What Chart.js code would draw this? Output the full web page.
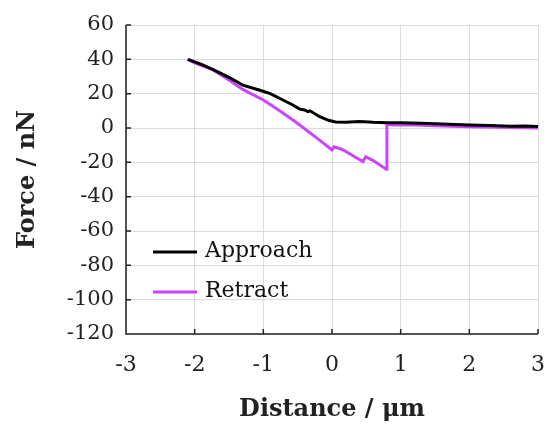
<!DOCTYPE html>
<html>
<head>
<meta charset="utf-8">
<script src="https://cdn.jsdelivr.net/npm/chart.js@4/dist/chart.umd.min.js"></script>
<style>
  html, body { margin: 0; padding: 0; background: #fff; }
  #wrap { width: 551px; height: 428px; }
</style>
</head>
<body>
<div id="wrap"><canvas id="force"></canvas></div>
<script>
// approach curve (black)
approachX = [-2.1, -2.0, -1.9, -1.73, -1.5, -1.3, -1.05, -0.9, -0.7, -0.57, -0.47, -0.4, -0.35, -0.32, -0.18, -0.05, 0.05, 0.2, 0.4, 0.6, 0.8, 1.0, 1.3, 1.6, 2.0, 2.3, 2.6, 2.8, 3.0];
approachY = [40, 38.5, 37, 34, 29.5, 25, 22, 20, 16, 13.4, 11, 10.5, 9.5, 10, 6.6, 4.5, 3.5, 3.3, 3.8, 3.3, 3, 3, 2.8, 2.3, 1.8, 1.5, 1.0, 1.2, 0.8];

// retract curve (magenta)
retractX = [-2.1, -2.0, -1.73, -1.5, -1.3, -1.0, -0.8, -0.6, -0.47, -0.2, 0.0, 0.03, 0.15, 0.3, 0.45, 0.49, 0.6, 0.79, 0.8, 0.9, 1.2, 1.6, 2.0, 2.4, 2.8, 3.0];
retractY = [40, 38, 33.8, 28, 22.5, 16.3, 11, 5.5, 1.7, -6.5, -12.8, -10.9, -12.5, -16, -19.6, -16.7, -19, -24, 2.2, 1.8, 1.8, 1.2, 0.8, 0.4, 0.2, 0];

xTicks = [-3, -2, -1, 0, 1, 2, 3];
yTicks = [60, 40, 20, 0, -20, -40, -60, -80, -100, -120];

var serif = "'DejaVu Serif', serif";

function toPoints(xs, ys) {
    var pts = [];
    for (var i = 0; i < xs.length; i++) pts.push({x: xs[i], y: ys[i]});
    return pts;
}

// inward tick marks, black axis lines and the legend inside the plot
var decorations = {
    id: 'decorations',
    afterDraw: function(chart) {
        var ctx = chart.ctx, a = chart.chartArea;
        var xs = chart.scales.x, ys = chart.scales.y;
        ctx.save();
        ctx.strokeStyle = '#222';
        ctx.lineWidth = 1.5;
        ctx.beginPath();
        ctx.moveTo(a.left, a.top);
        ctx.lineTo(a.left, a.bottom);
        ctx.lineTo(a.right, a.bottom);
        xTicks.forEach(function(t) {
            var px = xs.getPixelForValue(t);
            ctx.moveTo(px, a.bottom);
            ctx.lineTo(px, a.bottom - 5);
        });
        yTicks.forEach(function(t) {
            var py = ys.getPixelForValue(t);
            ctx.moveTo(a.left, py);
            ctx.lineTo(a.left + 5, py);
        });
        ctx.stroke();

        var lx = a.left + 27, ly = a.top + 227;
        ctx.font = "22px " + serif;
        ctx.textBaseline = 'middle';
        chart.data.datasets.forEach(function(ds, i) {
            var y = ly + i * 40;
            ctx.strokeStyle = ds.borderColor;
            ctx.lineWidth = 3;
            ctx.beginPath();
            ctx.moveTo(lx, y);
            ctx.lineTo(lx + 44, y);
            ctx.stroke();
            ctx.fillStyle = '#111';
            ctx.fillText(ds.label, lx + 52, y - 1);
        });
        ctx.restore();
    }
};

document.addEventListener('DOMContentLoaded', function() {
    var ctx = document.getElementById('force').getContext('2d');
    new Chart(ctx, {
        type: 'line',
        data: {
            datasets: [
                {label: 'Approach', data: toPoints(approachX, approachY), borderColor: '#000000', borderWidth: 3, pointRadius: 0, tension: 0},
                {label: 'Retract', data: toPoints(retractX, retractY), borderColor: '#cc44ff', borderWidth: 3, pointRadius: 0, tension: 0}
            ]
        },
        plugins: [decorations],
        options: {
            responsive: true,
            maintainAspectRatio: false,
            animation: false,
            layout: {padding: {top: 25, right: 13, left: 0, bottom: 0}},
            plugins: {legend: {display: false}, tooltip: {enabled: false}},
            scales: {
                x: {
                    type: 'linear', min: -3, max: 3,
                    afterBuildTicks: function(s) { s.ticks = xTicks.map(function(v) { return {value: v}; }); },
                    afterFit: function(s) { s.height = 94; s.paddingRight = 0; s.paddingLeft = 0; },
                    grid: {color: '#dcdcdc', lineWidth: 1, drawTicks: false},
                    border: {display: false},
                    ticks: {padding: 18, color: '#222', font: {family: serif, size: 22}},
                    title: {display: true, text: 'Distance / μm', color: '#222', font: {family: serif, size: 24, weight: 'bold'}, padding: {top: 0, bottom: 4}}
                },
                y: {
                    min: -120, max: 60,
                    afterBuildTicks: function(s) { s.ticks = yTicks.map(function(v) { return {value: v}; }); },
                    afterFit: function(s) { s.width = 126; },
                    grid: {color: '#dcdcdc', lineWidth: 1, drawTicks: false},
                    border: {display: false},
                    ticks: {padding: 12, color: '#222', font: {family: serif, size: 21}},
                    title: {display: true, text: 'Force / nN', color: '#222', font: {family: serif, size: 24, weight: 'bold'}, padding: {top: 13, bottom: 0}}
                }
            }
        }
    });
});
</script>
</body>
</html>
